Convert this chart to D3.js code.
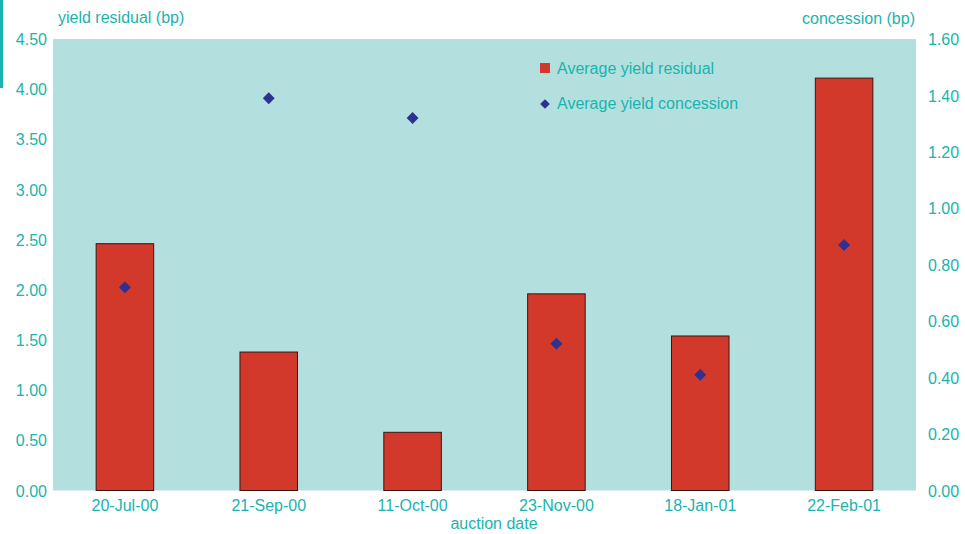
<!DOCTYPE html>
<html>
<head>
<meta charset="utf-8">
<script src="https://cdn.jsdelivr.net/npm/d3@7"></script>
<style>
body { margin: 0; background: #fff; }
text { font-family: "Liberation Sans", Arial, sans-serif; fill: #19b4ad; }
</style>
</head>
<body>
<script>
var w = 965, h = 534;

var dates = ["20-Jul-00", "21-Sep-00", "11-Oct-00", "23-Nov-00", "18-Jan-01", "22-Feb-01"];
var residual = [2.46, 1.38, 0.58, 1.96, 1.54, 4.11];
var concession = [0.72, 1.39, 1.32, 0.52, 0.41, 0.87];
var leftTicks = [0, 0.5, 1, 1.5, 2, 2.5, 3, 3.5, 4, 4.5];
var rightTicks = [0, 0.2, 0.4, 0.6, 0.8, 1.0, 1.2, 1.4, 1.6];

var m = {left: 53, right: 49, top: 39, bottom: 44};
var fs = "16px";

var svg = d3.select("body").append("svg")
	.attr("width", w)
	.attr("height", h)

// teal mark at top-left
svg.append("rect").attr("x", 0).attr("y", 0).attr("width", 3).attr("height", 88)
	.style("fill", "#19b4ad")

var x = d3.scaleBand().domain(dates)
	.range([m.left, w - m.right]).paddingInner(0.6).paddingOuter(0.3);
var yL = d3.scaleLinear().domain([0, 4.5]).range([h - m.bottom + 0.5, m.top]);
var yR = d3.scaleLinear().domain([0, 1.6]).range([h - m.bottom + 0.5, m.top]);

svg.append("rect")
	.attr("x", m.left).attr("y", m.top)
	.attr("width", w - m.right - m.left).attr("height", h - m.bottom - m.top + 0.5)
	.style("fill", "#b3e0df")

// bars
svg.append("g").selectAll("rect")
	.data(residual)
	.enter()
	.append("rect")
	.attr("x", function(d, i) { return x(dates[i]); })
	.attr("y", function(d) { return yL(d); })
	.attr("width", x.bandwidth())
	.attr("height", function(d) { return yL(0) - yL(d); })
	.style("fill", "#d2392b")
	.style("stroke", "#3b1510")
	.style("stroke-width", 1)

// diamonds
var sym = d3.symbol().type(d3.symbolDiamond2).size(90);
svg.append("g").selectAll("path")
	.data(concession)
	.enter()
	.append("path")
	.attr("d", sym)
	.attr("transform", function(d, i) {
		return "translate(" + (x(dates[i]) + x.bandwidth() / 2) + "," + yR(d) + ")";
	})
	.style("fill", "#2e3192")

// left axis
var axL = svg.append("g").attr("transform", "translate(" + m.left + ",0)")
	.call(d3.axisLeft(yL).tickValues(leftTicks).tickFormat(d3.format(".2f")).tickSize(0).tickPadding(6));
axL.select(".domain").remove();
axL.selectAll("text").style("font-size", fs).attr("dy", "0.35em");

// right axis
var axR = svg.append("g").attr("transform", "translate(" + (w - m.right) + ",0)")
	.call(d3.axisRight(yR).tickValues(rightTicks).tickFormat(d3.format(".2f")).tickSize(0).tickPadding(12));
axR.select(".domain").remove();
axR.selectAll("text").style("font-size", fs).attr("dy", "0.35em");

// bottom axis
var axB = svg.append("g").attr("transform", "translate(0," + (h - m.bottom) + ")")
	.call(d3.axisBottom(x).tickSize(0).tickPadding(10));
axB.select(".domain").remove();
axB.selectAll("text").style("font-size", fs);

svg.append("text").attr("x", 58).attr("y", 23).style("font-size", fs)
	.text("yield residual (bp)")
svg.append("text").attr("x", 915).attr("y", 24).attr("text-anchor", "end").style("font-size", fs)
	.text("concession (bp)")
svg.append("text").attr("x", 494).attr("y", 529).attr("text-anchor", "middle").style("font-size", fs)
	.text("auction date")

// legend
var legend = svg.append("g").attr("transform", "translate(540,68)")
legend.append("rect").attr("x", 0).attr("y", -5).attr("width", 10).attr("height", 10)
	.style("fill", "#d2392b")
legend.append("text").attr("x", 17).attr("y", 6).style("font-size", fs)
	.text("Average yield residual")
legend.append("path").attr("d", d3.symbol().type(d3.symbolDiamond2).size(60))
	.attr("transform", "translate(5,36)")
	.style("fill", "#2e3192")
legend.append("text").attr("x", 17).attr("y", 41).style("font-size", fs)
	.text("Average yield concession")
</script>
</body>
</html>
